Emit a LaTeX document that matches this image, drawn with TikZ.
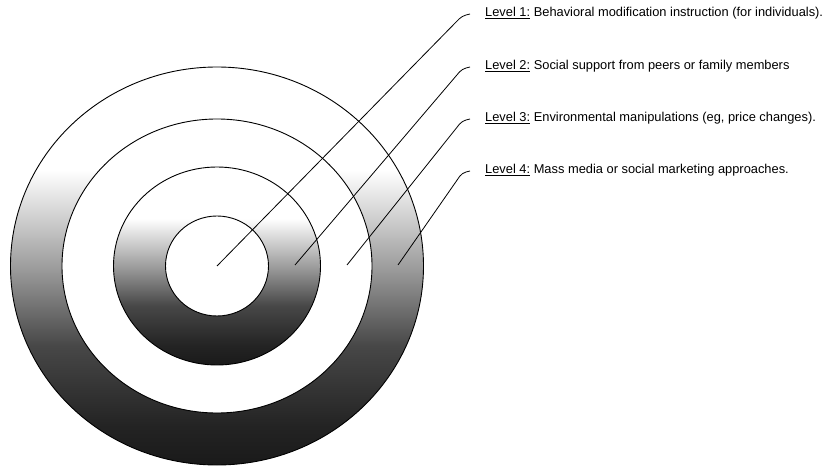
\documentclass[tikz,border=0pt]{standalone}
\usepackage{fontspec}
\setmainfont{Liberation Sans}
\usetikzlibrary{positioning}

% white over the upper part of each ring, darkening towards its foot
\pgfdeclareverticalshading{ringfade}{100bp}{color(0bp)=(black!90); color(25bp)=(black!90); color(30bp)=(black!86); color(40bp)=(black!72); color(50bp)=(black!38); color(62bp)=(white); color(100bp)=(white)}

\begin{document}
\begin{tikzpicture}[x=1bp, y=-1bp, every node/.style={font=\fontsize{12.9}{15}\selectfont},
	ring/.style={draw=black, line width=0.9bp},
	leader/.style={draw=black, line width=0.8bp, rounded corners=4bp},
	levtext/.style={anchor=base west, inner sep=0pt}]
	\useasboundingbox (0,0) rectangle (832,466);
	\coordinate (c) at (217,266);
	% shaded rings
	\shade[shading=ringfade, even odd rule] (c) ellipse [x radius=206.5, y radius=199] (c) ellipse [x radius=155, y radius=147];
	\shade[shading=ringfade, even odd rule] (c) ellipse [x radius=103.5, y radius=99] (c) ellipse [x radius=51.5, y radius=50];
	\foreach \rx/\ry in {51.5/50, 103.5/99, 155/147, 206.5/199}
		\draw[ring] (c) ellipse [x radius=\rx, y radius=\ry];
	% level texts
	\node[levtext] (lev1) at (485,17) {\underline{Level 1:} Behavioral modification instruction (for individuals).};
	\node[levtext] (lev2) at (485,70) {\underline{Level 2:} Social support from peers or family members};
	\node[levtext] (lev3) at (485,122) {\underline{Level 3:} Environmental manipulations (eg, price changes).};
	\node[levtext] (lev4) at (485,174) {\underline{Level 4:} Mass media or social marketing approaches.};
	% leader lines
	\coordinate (p1) at (c);
	\coordinate (p2) at (295,265);
	\coordinate (p3) at (347,265);
	\coordinate (p4) at (398,265);
	\foreach \i in {1,...,4}
		\draw[leader] (p\i) -- ([xshift=-23bp, yshift=1bp]lev\i.base west) -- ([xshift=-15bp, yshift=3bp]lev\i.base west);
\end{tikzpicture}
\end{document}
